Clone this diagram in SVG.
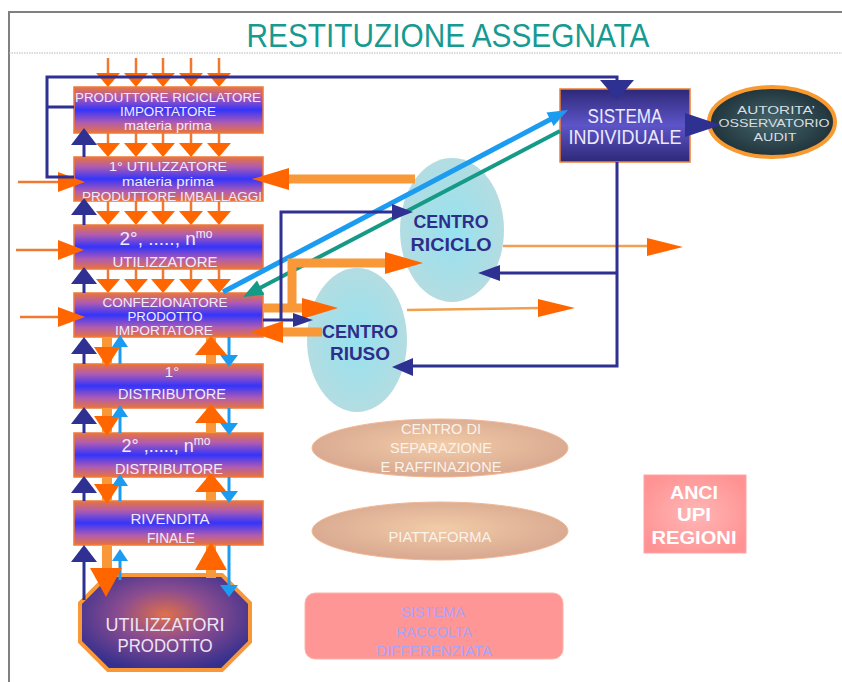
<svg xmlns="http://www.w3.org/2000/svg" xmlns:xlink="http://www.w3.org/1999/xlink" width="842" height="682" viewBox="0 0 842 682">
<style>
.f{font-family:"Liberation Sans",Arial,sans-serif;text-anchor:middle}
.bt{fill:#f0eaff}
.box{fill:url(#bg);stroke:#f07838;stroke-width:1.5}
.ol{stroke:#f07830;stroke-width:2.5;fill:none}
.ot{stroke:#f89838;stroke-width:9;fill:none}
.ob{stroke:#f89838;stroke-width:10;fill:none}
.thin{stroke:#f0a050;stroke-width:2.5;fill:none}
.nv{stroke:#2e3192;stroke-width:3;fill:none}
.lb{stroke:#1c9cf0;stroke-width:3;fill:none}
.oa{fill:#ff6600}
.na{fill:#2e3192}
.la{fill:#1c9cf0}
.cy{fill:url(#cyg)}
.ct{fill:#2e2e8a;font-weight:bold}
.tan{fill:url(#tang);stroke:#f2b894;stroke-width:1}
.tt{fill:#fbf2ea}
</style>
<defs>
<linearGradient id="bg" x1="0" y1="0" x2="0" y2="1">
<stop offset="0" stop-color="#e8743c"/>
<stop offset="0.22" stop-color="#b05cb0"/>
<stop offset="0.5" stop-color="#3434fa"/>
<stop offset="0.78" stop-color="#b05cb0"/>
<stop offset="1" stop-color="#e8743c"/>
</linearGradient>
<linearGradient id="sg" x1="0" y1="0" x2="0" y2="1">
<stop offset="0" stop-color="#2e2878"/>
<stop offset="0.5" stop-color="#5d55c8"/>
<stop offset="1" stop-color="#2e2878"/>
</linearGradient>
<radialGradient id="og" cx="0.5" cy="0.42" r="0.6">
<stop offset="0" stop-color="#e0704a"/>
<stop offset="0.45" stop-color="#8a4c90"/>
<stop offset="1" stop-color="#35308e"/>
</radialGradient>
<radialGradient id="ag" cx="0.5" cy="0.5" r="0.55">
<stop offset="0" stop-color="#46666c"/>
<stop offset="1" stop-color="#1c2e36"/>
</radialGradient>
<radialGradient id="cyg" cx="0.5" cy="0.5" r="0.55">
<stop offset="0" stop-color="#96e2f0"/>
<stop offset="1" stop-color="#b6dce0"/>
</radialGradient>
<radialGradient id="tang" cx="0.5" cy="0.45" r="0.55">
<stop offset="0" stop-color="#f2cca8"/>
<stop offset="1" stop-color="#d8a890"/>
</radialGradient>
<radialGradient id="pg" cx="0.5" cy="0.5" r="0.6">
<stop offset="0" stop-color="#ffb6b6"/>
<stop offset="1" stop-color="#ff9292"/>
</radialGradient>
<polygon id="dn" points="-12,-14 12,-14 0,0"/>
<polygon id="up" points="-13,17 13,17 0,0"/>
<polygon id="upS" points="-8,12 8,12 0,0"/>
<polygon id="dnS" points="-9,-12 9,-12 0,0"/>
<polygon id="dnB" points="-13,-20 13,-20 0,0"/>
<polygon id="upB" points="-16,19 16,19 0,0"/>
<polygon id="dnL" points="-16,-29 16,-29 0,0"/>
<polygon id="upL" points="-16,28 16,28 0,0"/>
</defs>

<g id="frame">
<path d="M9,682 V12 H842" stroke="#808080" stroke-width="2" fill="none"/>
<line x1="9" y1="53" x2="842" y2="53" stroke="#b8b8b8" stroke-width="1.2" stroke-dasharray="1.5 1"/>
<text class="f" x="448" y="47" font-size="33" fill="#179a92" textLength="403" lengthAdjust="spacingAndGlyphs">RESTITUZIONE ASSEGNATA</text>
</g>

<g id="n-produttore">
<rect class="box" x="74" y="87" width="189" height="46"/>
<text class="f bt" x="168" y="102" font-size="12.5" textLength="186" lengthAdjust="spacingAndGlyphs">PRODUTTORE RICICLATORE</text>
<text class="f bt" x="168" y="116" font-size="12.5" textLength="96" lengthAdjust="spacingAndGlyphs">IMPORTATORE</text>
<text class="f bt" x="168" y="130" font-size="12" textLength="88" lengthAdjust="spacingAndGlyphs">materia prima</text>
</g>
<g id="n-utilizzatore1">
<rect class="box" x="74" y="157" width="189" height="44"/>
<text class="f bt" x="168" y="171" font-size="12.5" textLength="118" lengthAdjust="spacingAndGlyphs">1° UTILIZZATORE</text>
<text class="f bt" x="168" y="186" font-size="12.5" textLength="92" lengthAdjust="spacingAndGlyphs">materia prima</text>
<text class="f bt" x="172" y="201" font-size="12.5" textLength="180" lengthAdjust="spacingAndGlyphs">PRODUTTORE IMBALLAGGI</text>
</g>
<g id="n-utilizzatoreN">
<rect class="box" x="74" y="225" width="189" height="44"/>
<text class="f bt" x="166" y="245" font-size="19">2°, ....., n<tspan font-size="12" dy="-7">mo</tspan></text>
<text class="f bt" x="165" y="267" font-size="15" textLength="105" lengthAdjust="spacingAndGlyphs">UTILIZZATORE</text>
</g>
<g id="n-confezionatore">
<rect class="box" x="74" y="293" width="189" height="44"/>
<text class="f bt" x="165" y="307" font-size="12.5" textLength="125" lengthAdjust="spacingAndGlyphs">CONFEZIONATORE</text>
<text class="f bt" x="165" y="321" font-size="12.5" textLength="75" lengthAdjust="spacingAndGlyphs">PRODOTTO</text>
<text class="f bt" x="164" y="335" font-size="12.5" textLength="98" lengthAdjust="spacingAndGlyphs">IMPORTATORE</text>
</g>
<g id="n-distributore1">
<rect class="box" x="74" y="364" width="189" height="44"/>
<text class="f bt" x="172" y="377" font-size="15">1°</text>
<text class="f bt" x="172" y="399" font-size="15" textLength="108" lengthAdjust="spacingAndGlyphs">DISTRIBUTORE</text>
</g>
<g id="n-distributoreN">
<rect class="box" x="74" y="433" width="189" height="44"/>
<text class="f bt" x="166" y="452" font-size="18">2° ,....., n<tspan font-size="12" dy="-7">mo</tspan></text>
<text class="f bt" x="169" y="474" font-size="15" textLength="108" lengthAdjust="spacingAndGlyphs">DISTRIBUTORE</text>
</g>
<g id="n-rivendita">
<rect class="box" x="74" y="501" width="189" height="44"/>
<text class="f bt" x="170" y="524" font-size="15" textLength="79" lengthAdjust="spacingAndGlyphs">RIVENDITA</text>
<text class="f bt" x="171" y="543" font-size="15" textLength="48" lengthAdjust="spacingAndGlyphs">FINALE</text>
</g>
<g id="n-utilizzatori-prodotto">
<polygon points="108,575 222,575 250,603 250,642 222,670 108,670 80,642 80,603" fill="url(#og)" stroke="#f89838" stroke-width="4"/>
<text class="f" x="165" y="631" font-size="19" fill="#ece4f4" textLength="119" lengthAdjust="spacingAndGlyphs">UTILIZZATORI</text>
<text class="f" x="165" y="652" font-size="19" fill="#ece4f4" textLength="95" lengthAdjust="spacingAndGlyphs">PRODOTTO</text>
</g>
<g id="n-sistema-individuale">
<rect x="560" y="89" width="130" height="73" fill="url(#sg)" stroke="#f08030" stroke-width="1.5"/>
<text class="f" x="625" y="123" font-size="20" fill="#ece8ff" textLength="75" lengthAdjust="spacingAndGlyphs">SISTEMA</text>
<text class="f" x="625" y="144" font-size="20" fill="#ece8ff" textLength="113" lengthAdjust="spacingAndGlyphs">INDIVIDUALE</text>
</g>
<g id="n-autorita">
<ellipse cx="772" cy="122" rx="63" ry="35" fill="url(#ag)" stroke="#f89a30" stroke-width="4"/>
<text class="f" x="776" y="114" font-size="11" fill="#d8dee2" textLength="78" lengthAdjust="spacingAndGlyphs">AUTORITA’</text>
<text class="f" x="774" y="127" font-size="11" fill="#d8dee2" textLength="111" lengthAdjust="spacingAndGlyphs">OSSERVATORIO</text>
<text class="f" x="775" y="141" font-size="11" fill="#d8dee2" textLength="43" lengthAdjust="spacingAndGlyphs">AUDIT</text>
</g>
<g id="n-centro-riciclo">
<ellipse class="cy" cx="452" cy="230" rx="52" ry="72"/>
<text class="f ct" x="451" y="228" font-size="18" textLength="75" lengthAdjust="spacingAndGlyphs">CENTRO</text>
<text class="f ct" x="451" y="251" font-size="18" textLength="81" lengthAdjust="spacingAndGlyphs">RICICLO</text>
</g>
<g id="n-centro-riuso">
<ellipse class="cy" cx="357" cy="340" rx="50" ry="72"/>
<text class="f ct" x="360" y="338" font-size="18" textLength="76" lengthAdjust="spacingAndGlyphs">CENTRO</text>
<text class="f ct" x="360" y="360" font-size="18" textLength="60" lengthAdjust="spacingAndGlyphs">RIUSO</text>
</g>
<g id="n-separazione">
<ellipse class="tan" cx="440" cy="448" rx="128" ry="29"/>
<text class="f tt" x="441" y="434" font-size="14" textLength="80" lengthAdjust="spacingAndGlyphs">CENTRO DI</text>
<text class="f tt" x="441" y="453" font-size="14" textLength="102" lengthAdjust="spacingAndGlyphs">SEPARAZIONE</text>
<text class="f tt" x="441" y="472" font-size="14" textLength="121" lengthAdjust="spacingAndGlyphs">E RAFFINAZIONE</text>
</g>
<g id="n-piattaforma">
<ellipse class="tan" cx="440" cy="531" rx="128" ry="29"/>
<text class="f tt" x="440" y="542" font-size="15" textLength="103" lengthAdjust="spacingAndGlyphs">PIATTAFORMA</text>
</g>
<g id="n-raccolta">
<rect x="305" y="593" width="258" height="66" rx="10" fill="#ff9696" stroke="#ffb4a4" stroke-width="1"/>
<text class="f" x="433" y="617" font-size="14" fill="#a8a4fa" textLength="64" lengthAdjust="spacingAndGlyphs">SISTEMA</text>
<text class="f" x="434" y="637" font-size="14" fill="#a8a4fa" textLength="76" lengthAdjust="spacingAndGlyphs">RACCOLTA</text>
<text class="f" x="434" y="656" font-size="14" fill="#a8a4fa" textLength="116" lengthAdjust="spacingAndGlyphs">DIFFERENZIATA</text>
</g>
<g id="n-anci">
<rect x="644" y="475" width="102" height="78" fill="url(#pg)" stroke="#ffa4a4" stroke-width="1"/>
<text class="f" x="694" y="499" font-size="18" font-weight="bold" fill="#ffffff" textLength="48" lengthAdjust="spacingAndGlyphs">ANCI</text>
<text class="f" x="694" y="521" font-size="18" font-weight="bold" fill="#ffffff" textLength="34" lengthAdjust="spacingAndGlyphs">UPI</text>
<text class="f" x="694" y="544" font-size="18" font-weight="bold" fill="#ffffff" textLength="85" lengthAdjust="spacingAndGlyphs">REGIONI</text>
</g>

<g id="connectors">
<path class="ol" d="M108,58V75M136,58V75M163,58V75M191,58V75M219,58V75M108,133V145M136,133V145M163,133V145M191,133V145M219,133V145M108,201V213M136,201V213M163,201V213M191,201V213M219,201V213M108,269V281M136,269V281M163,269V281M191,269V281M219,269V281"/>
<g class="oa">
<use href="#dn" x="108" y="87"/><use href="#dn" x="136" y="87"/><use href="#dn" x="163" y="87"/><use href="#dn" x="191" y="87"/><use href="#dn" x="219" y="87"/>
<use href="#dn" x="108" y="157"/><use href="#dn" x="136" y="157"/><use href="#dn" x="163" y="157"/><use href="#dn" x="191" y="157"/><use href="#dn" x="219" y="157"/>
<use href="#dn" x="108" y="225"/><use href="#dn" x="136" y="225"/><use href="#dn" x="163" y="225"/><use href="#dn" x="191" y="225"/><use href="#dn" x="219" y="225"/>
<use href="#dn" x="108" y="293"/><use href="#dn" x="136" y="293"/><use href="#dn" x="163" y="293"/><use href="#dn" x="191" y="293"/><use href="#dn" x="219" y="293"/>
</g>
<path class="ol" d="M18,182H60M16,250H60M20,317H60"/>
<polygon class="oa" points="58,172 58,192 85,182"/>
<polygon class="oa" points="58,240 58,260 84,250"/>
<polygon class="oa" points="58,307 58,327 85,317"/>
<path class="nv" d="M74,177H47V77H617V84M47,107H74"/>
<polygon class="na" points="600,80 634,80 617,100"/>
<path class="ob" d="M107,337V364M211,337V364M107,408V433M211,408V433M107,477V501M211,477V501M107,545V580M211,545V578"/>
<path class="lb" d="M120,346V364M229,337V356M120,417V433M229,408V424M120,486V501M229,477V492M120,560V580M229,545V585"/>
<path class="nv" d="M84,145V157M84,214V225M84,283V293M84,353V364M84,424V433M84,493V501M84,560V600"/>
<g class="na">
<use href="#up" x="84" y="128"/><use href="#up" x="84" y="198"/><use href="#up" x="84" y="267"/><use href="#up" x="84" y="337"/><use href="#up" x="84" y="407"/><use href="#up" x="84" y="476"/><use href="#up" x="84" y="545"/>
</g>
<g class="oa">
<use href="#dnB" x="107" y="367"/><use href="#dnB" x="107" y="436"/><use href="#dnB" x="107" y="504"/>
<use href="#upB" x="211" y="336"/><use href="#upB" x="211" y="404"/><use href="#upB" x="211" y="473"/>
<use href="#dnL" x="106" y="597"/><use href="#upL" x="211" y="542"/>
</g>
<g class="la">
<use href="#upS" x="120" y="335"/><use href="#upS" x="120" y="405"/><use href="#upS" x="120" y="474"/><use href="#upS" x="120" y="549"/>
<use href="#dnS" x="229" y="367"/><use href="#dnS" x="229" y="435"/><use href="#dnS" x="229" y="503"/><use href="#dnS" x="229" y="597"/>
</g>
<line x1="223" y1="292" x2="553" y2="118" stroke="#1c9cf0" stroke-width="5"/>
<polygon class="la" points="568,110 553.6,126 546.5,112.6"/>
<line x1="560" y1="131" x2="258" y2="289" stroke="#169a88" stroke-width="4"/>
<polygon fill="#169a88" points="243,297 264.4,294.8 257,280.6"/>
<path class="ot" d="M415,179H285"/>
<polygon class="oa" points="289,168 289,190 252,179"/>
<path class="ot" d="M263,308H305M292,308V263H388"/>
<polygon class="oa" points="302,298 302,319 338,308"/>
<polygon class="oa" points="385,252 385,274 423,263"/>
<path class="ot" d="M322,332H280"/>
<polygon class="oa" points="283,321 283,343 250,332"/>
<path class="nv" d="M263,320H296M281,320V212H395"/>
<polygon class="na" points="392,204 392,220 413,212"/>
<polygon class="na" points="293,313 293,327 313,320"/>
<path class="thin" d="M503,246H650M407,310L540,308"/>
<polygon class="oa" points="647,238 647,256 683,247"/>
<polygon class="oa" points="538,299 538,317 575,308"/>
<polygon class="na" points="685,113 685,137 721,125"/>
<path class="nv" d="M617,162V366H411M617,273H498"/>
<polygon class="na" points="500,265 500,281 478,273"/>
<polygon class="na" points="413,358 413,376 392,367"/>
</g>
</svg>
